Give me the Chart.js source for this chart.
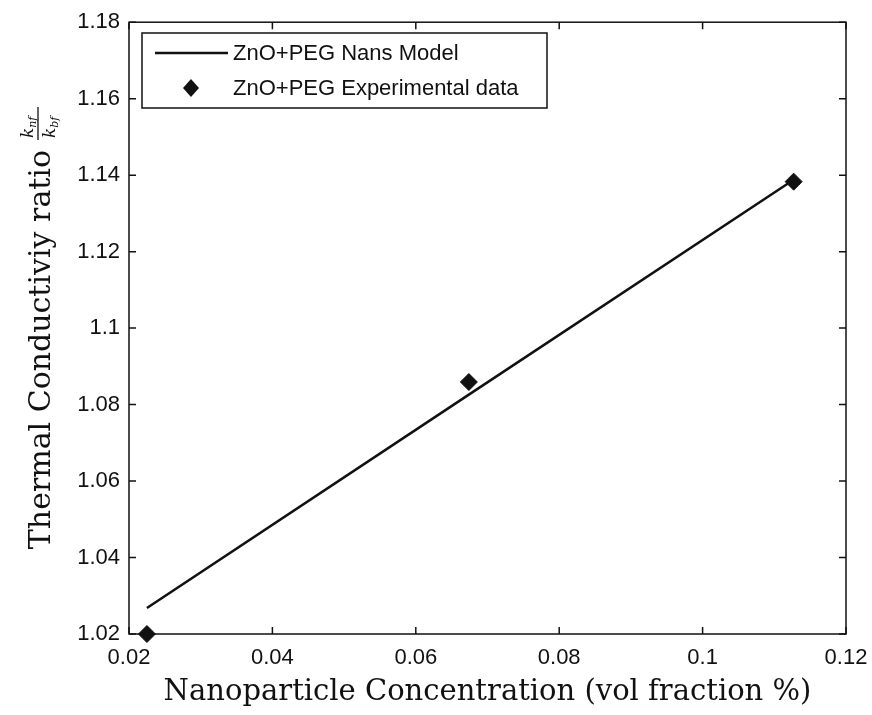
<!DOCTYPE html>
<html>
<head>
<meta charset="utf-8">
<title>Thermal conductivity ratio</title>
<script src="https://cdn.jsdelivr.net/npm/chart.js@4.4.1/dist/chart.umd.min.js"></script>
<style>
    html, body { margin: 0; padding: 0; background: #fff; }
    #wrap { width: 872px; height: 715px; }
</style>
</head>
<body>
<div id="wrap"><canvas id="chart-ratio" width="872" height="715"></canvas></div>
<script>
/* global Chart */

// volume fraction of ZnO in PEG
const concentration = [0.0225, 0.0674, 0.1127];
const modelRatio = [1.0268, 1.0826, 1.1388];
const experimentalRatio = [1.0200, 1.0859, 1.1383];

const xTicks = [0.02, 0.04, 0.06, 0.08, 0.1, 0.12];
const yTicks = [1.02, 1.04, 1.06, 1.08, 1.1, 1.12, 1.14, 1.16, 1.18];

const seriesLabels = ['ZnO+PEG Nans Model', 'ZnO+PEG Experimental data'];
const xTitle = 'Nanoparticle Concentration (vol fraction %)';
const yTitle = 'Thermal Conductiviy ratio';

const INK = '#111';
const SANS = '"Liberation Sans", Arial, sans-serif';
const SERIF = '"DejaVu Serif", serif';

function toPoints(xs, ys) {
    return xs.map((x, i) => ({ x, y: ys[i] }));
}

function formatTick(value) {
    return String(+Number(value).toFixed(2));
}

// box round the plot with inward ticks on all four sides
const frameBox = {
    id: 'frameBox',
    afterDatasetsDraw(chart) {
        const { ctx, chartArea: a, scales } = chart;
        const len = 7;
        ctx.save();
        ctx.strokeStyle = INK;
        ctx.lineWidth = 1.5;
        ctx.strokeRect(a.left, a.top, a.right - a.left, a.bottom - a.top);
        ctx.beginPath();
        xTicks.forEach(v => {
            const px = scales.x.getPixelForValue(v);
            ctx.moveTo(px, a.bottom);
            ctx.lineTo(px, a.bottom - len);
            ctx.moveTo(px, a.top);
            ctx.lineTo(px, a.top + len);
        });
        yTicks.forEach(v => {
            const py = scales.y.getPixelForValue(v);
            ctx.moveTo(a.left, py);
            ctx.lineTo(a.left + len, py);
            ctx.moveTo(a.right, py);
            ctx.lineTo(a.right - len, py);
        });
        ctx.stroke();
        ctx.restore();
    },
};

// legend box in the upper left corner of the plot
const boxLegend = {
    id: 'boxLegend',
    afterDraw(chart) {
        const { ctx } = chart;
        const x0 = 142;
        const y0 = 33;
        const w = 405;
        const h = 75;
        ctx.save();
        ctx.fillStyle = '#fff';
        ctx.fillRect(x0, y0, w, h);
        ctx.strokeStyle = INK;
        ctx.lineWidth = 1.5;
        ctx.strokeRect(x0, y0, w, h);

        const row1 = y0 + 20;
        const row2 = y0 + 55;

        ctx.lineWidth = 2.5;
        ctx.beginPath();
        ctx.moveTo(x0 + 13, row1);
        ctx.lineTo(x0 + 86, row1);
        ctx.stroke();

        ctx.fillStyle = INK;
        ctx.beginPath();
        ctx.moveTo(x0 + 49, row2 - 9);
        ctx.lineTo(x0 + 57, row2);
        ctx.lineTo(x0 + 49, row2 + 9);
        ctx.lineTo(x0 + 41, row2);
        ctx.closePath();
        ctx.fill();

        ctx.font = `22px ${SANS}`;
        ctx.textBaseline = 'middle';
        ctx.fillText(seriesLabels[0], x0 + 91, row1 + 1);
        ctx.fillText(seriesLabels[1], x0 + 91, row2 + 1);
        ctx.restore();
    },
};

// axis titles, the y one ends with the k_nf / k_bf fraction
const axisTitles = {
    id: 'axisTitles',
    afterDraw(chart) {
        const { ctx, chartArea: a } = chart;
        ctx.save();
        ctx.fillStyle = INK;
        ctx.strokeStyle = INK;

        ctx.font = `29px ${SERIF}`;
        ctx.textAlign = 'center';
        ctx.textBaseline = 'alphabetic';
        ctx.fillText(xTitle, (a.left + a.right) / 2, 700);

        ctx.font = `30px ${SERIF}`;
        ctx.textAlign = 'left';
        const textW = ctx.measureText(yTitle).width;
        const gap = 10;
        const fracW = 33;
        const total = textW + gap + fracW;
        const midY = (a.top + a.bottom) / 2;

        ctx.translate(50, midY + total / 2);
        ctx.rotate(-Math.PI / 2);
        ctx.fillText(yTitle, 0, 0);

        const fx = textW + gap;
        ctx.lineWidth = 1.3;
        ctx.beginPath();
        ctx.moveTo(fx, -12);
        ctx.lineTo(fx + fracW, -12);
        ctx.stroke();

        const drawK = (x, base, sub) => {
            ctx.font = `italic 17px ${SERIF}`;
            ctx.fillText('k', x, base);
            const kw = ctx.measureText('k').width;
            ctx.font = `italic 11px ${SERIF}`;
            ctx.fillText(sub, x + kw, base + 3);
        };
        drawK(fx + 2, -17, 'nf');
        drawK(fx + 2, 5, 'bf');
        ctx.restore();
    },
};

new Chart(document.getElementById('chart-ratio'), {
    type: 'scatter',
    data: {
        datasets: [
            {
                label: seriesLabels[0],
                data: toPoints(concentration, modelRatio),
                showLine: true,
                borderColor: INK,
                borderWidth: 2.5,
                pointRadius: 0,
                tension: 0,
                clip: false,
            },
            {
                label: seriesLabels[1],
                data: toPoints(concentration, experimentalRatio),
                pointStyle: 'rectRot',
                pointRadius: 8.5,
                backgroundColor: INK,
                borderColor: INK,
                borderWidth: 1,
                clip: false,
            },
        ],
    },
    options: {
        responsive: false,
        animation: false,
        layout: { padding: { top: 20, right: 26, left: 0, bottom: 0 } },
        plugins: {
            legend: { display: false },
            tooltip: { enabled: false },
        },
        scales: {
            x: {
                type: 'linear',
                min: 0.02,
                max: 0.12,
                afterBuildTicks: s => { s.ticks = xTicks.map(v => ({ value: v })); },
                afterFit: s => {
                    s.height = 81;
                    s.paddingRight = 0;
                },
                grid: { display: false, drawTicks: false },
                border: { display: false },
                ticks: {
                    color: INK,
                    padding: 11,
                    maxRotation: 0,
                    autoSkip: false,
                    font: { family: SANS, size: 22 },
                    callback: formatTick,
                },
            },
            y: {
                type: 'linear',
                min: 1.02,
                max: 1.18,
                afterBuildTicks: s => { s.ticks = yTicks.map(v => ({ value: v })); },
                afterFit: s => { s.width = 129; },
                grid: { display: false, drawTicks: false },
                border: { display: false },
                ticks: {
                    color: INK,
                    padding: 9,
                    autoSkip: false,
                    font: { family: SANS, size: 22 },
                    callback: formatTick,
                },
            },
        },
    },
    plugins: [frameBox, boxLegend, axisTitles],
});
</script>
</body>
</html>
